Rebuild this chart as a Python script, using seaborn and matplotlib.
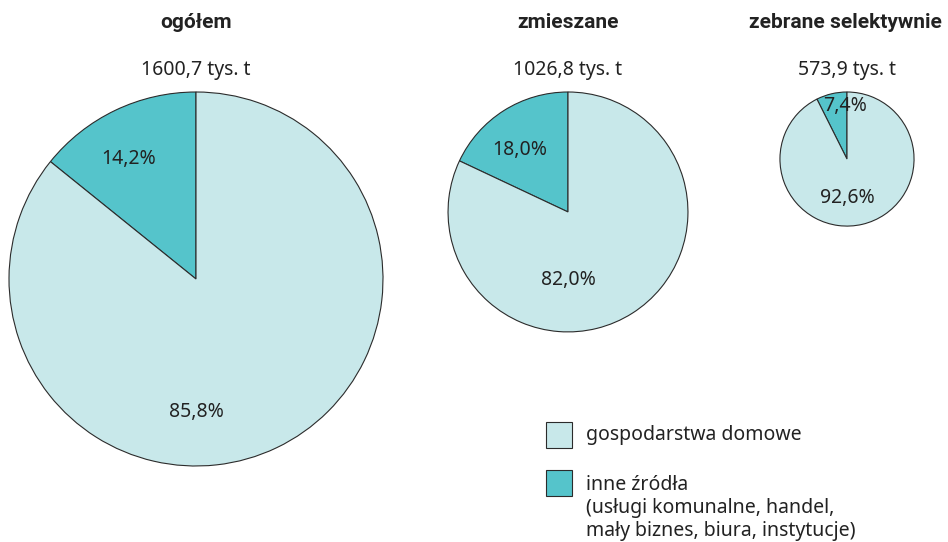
import matplotlib.pyplot as plt
import seaborn as sns
from matplotlib.patches import Rectangle

# --- data ---
titles = ["ogółem", "zmieszane", "zebrane selektywnie"]
totals = [1600.7, 1026.8, 573.9]          # tys. t
share_inne = [14.2, 18.0, 7.4]
share_gosp = [85.8, 82.0, 92.6]
legend_labels = [
    "gospodarstwa domowe",
    "inne źródła\n(usługi komunalne, handel,\nmały biznes, biura, instytucje)",
]

COL_GOSP = "#c8e8ea"
COL_INNE = "#55c4cb"
EDGE = "#2b2b2b"
TXT = "#222222"
FS = 14

sns.set_theme(style="white")
plt.rcParams["font.family"] = ["Noto Sans", "DejaVu Sans"]

W, H = 948, 542
fig = plt.figure(figsize=(W / 100, H / 100), dpi=100)
ax = fig.add_axes([0, 0, 1, 1])

# layout (pixel coords, y from top)
centers_x = [196, 568, 847]
title_x = [196, 568, 845]
top_y = 92                      # all pies share the top edge
r_max = 187
# label offsets relative to radius
lab_inne = [(-0.36, 0.64), (-0.40, 0.52), (-0.03, 0.79)]
lab_gosp = [(0.0, -0.71), (0.0, -0.57), (0.0, -0.58)]


def fmt(v):
    return f"{v:.1f}".replace(".", ",")


for i, title in enumerate(titles):
    r = r_max * totals[i] / totals[0]
    cx = centers_x[i]
    cy = H - (top_y + r)
    ax.pie(
        [share_inne[i], share_gosp[i]],
        colors=[COL_INNE, COL_GOSP],
        startangle=90,
        counterclock=True,
        center=(cx, cy),
        radius=r,
        wedgeprops=dict(edgecolor=EDGE, linewidth=0.8),
        frame=True,
    )
    ax.text(cx + lab_inne[i][0] * r, cy + lab_inne[i][1] * r,
            fmt(share_inne[i]) + "%", ha="center", va="center",
            fontsize=FS, color=TXT)
    ax.text(cx + lab_gosp[i][0] * r, cy + lab_gosp[i][1] * r,
            fmt(share_gosp[i]) + "%", ha="center", va="center",
            fontsize=FS, color=TXT)
    ax.text(title_x[i], H - 22, title, ha="center", va="center",
            fontsize=15, fontweight="bold", color=TXT,
            family=["Roboto", "DejaVu Sans"])
    ax.text(cx, H - 70, fmt(totals[i]) + " tys. t", ha="center", va="center",
            fontsize=FS, color=TXT)

ax.set_xlim(0, W)
ax.set_ylim(0, H)
ax.set_aspect("equal")
ax.axis("off")

# legend drawn by hand
ax.add_patch(Rectangle((546, H - 448), 26, 26, facecolor=COL_GOSP,
                       edgecolor=EDGE, linewidth=0.8))
ax.text(586, H - 435, legend_labels[0], ha="left", va="center",
        fontsize=FS, color=TXT)
ax.add_patch(Rectangle((546, H - 496), 26, 26, facecolor=COL_INNE,
                       edgecolor=EDGE, linewidth=0.8))
ax.text(586, H - 475, legend_labels[1], ha="left", va="top",
        fontsize=FS, color=TXT, linespacing=1.2)

fig.savefig("out.png", dpi=100)
